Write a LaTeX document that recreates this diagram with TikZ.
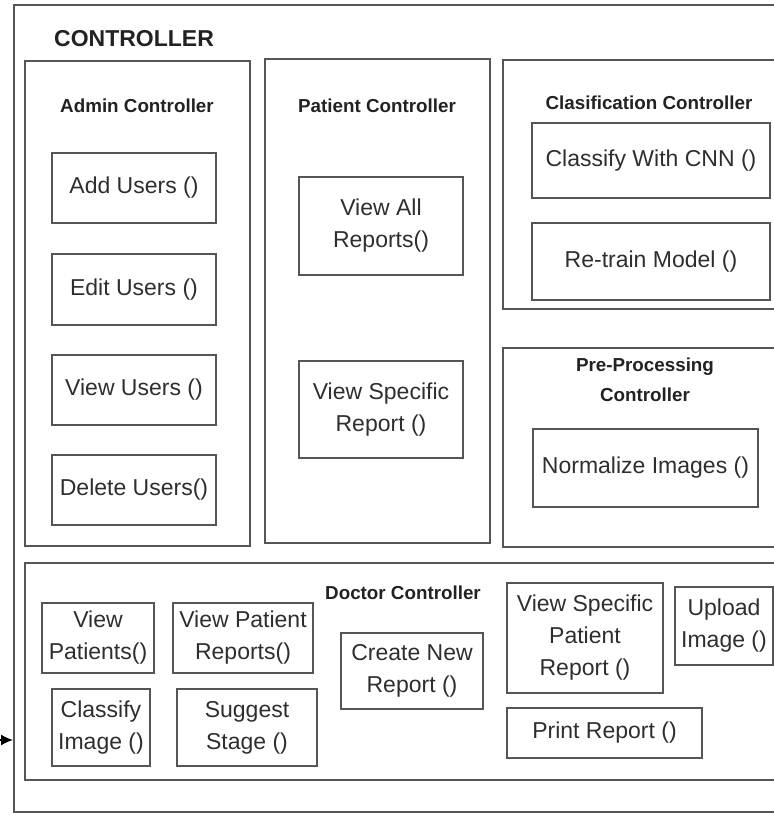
\documentclass[tikz,border=0pt]{standalone}
\usepackage{fontspec}
\setmainfont{Liberation Sans}
\usetikzlibrary{arrows.meta, positioning}
\definecolor{lngray}{HTML}{555555}
\definecolor{txgray}{HTML}{2E2E2E}
\definecolor{hdblack}{HTML}{222222}

\begin{document}
\begin{tikzpicture}[x=1pt, y=-1pt, >={Latex[length=12pt, width=11pt]},
  method/.style={draw=lngray, line width=1.7pt, text=txgray, align=center,
    inner sep=0pt, font=\fontsize{23}{32}\selectfont},
  group/.style={draw=lngray, line width=1.7pt},
  head/.style={text=hdblack, align=center, font=\fontsize{18.8}{30}\selectfont\bfseries}]

% Page size of the reference
\useasboundingbox (0,0) rectangle (774,815);
\clip (0,0) rectangle (774,815);

% Outer controller frame and title
\draw[group] (14,5) rectangle (790,812);
\node[head, font=\fontsize{23}{26}\selectfont\bfseries] (title) at (134,39) {CONTROLLER};

% Admin controller
\draw[group] (25,61) rectangle (250,546);
\node[head] (adminHead) at (137,106) {Admin Controller};
\node[method, minimum width=164, minimum height=70] (addUsers) at (134,188) {Add Users ()};
\node[method, minimum width=164, minimum height=71] (editUsers) at (134,289.5) {Edit Users ()};
\node[method, minimum width=164, minimum height=70] (viewUsers) at (134,390) {View Users ()};
\node[method, minimum width=164, minimum height=70] (deleteUsers) at (134,490) {Delete Users()};

% Patient controller
\draw[group] (265,59) rectangle (490,543);
\node[head] (patientHead) at (377,106) {Patient Controller};
\node[method, minimum width=164, minimum height=98] (viewAll) at (381,226) {View All\\Reports()};
\node[method, minimum width=164, minimum height=97] (viewSpecific) at (381,409.5) {View Specific\\Report ()};

% Classification controller
\draw[group] (503,60) rectangle (790,309);
\node[head] (classHead) at (649,103) {Clasification Controller};
\node[method, minimum width=238, minimum height=75] (classifyCnn) at (651,160.5) {Classify With CNN ()};
\node[method, minimum width=238, minimum height=77] (retrain) at (651,261.5) {Re-train Model ()};

% Pre-processing controller
\draw[group] (503,348) rectangle (790,547);
\node[head] (preHead) at (645,380) {Pre-Processing\\Controller};
\node[method, minimum width=225, minimum height=78] (normalize) at (645.5,468) {Normalize Images ()};

% Doctor controller
\draw[group] (25,563) rectangle (790,780);
\node[head] (doctorHead) at (403,593) {Doctor Controller};
\node[method, minimum width=112, minimum height=70] (viewPatients) at (98,638) {View\\Patients()};
\node[method, minimum width=140, minimum height=70] (viewPatReports) at (243,638) {View Patient\\Reports()};
\node[method, minimum width=98, minimum height=77] (classifyImage) at (101,727.5) {Classify\\Image ()};
\node[method, minimum width=140, minimum height=77] (suggestStage) at (247,727.5) {Suggest\\Stage ()};
\node[method, minimum width=142, minimum height=76] (createReport) at (412,671) {Create New\\Report ()};
\node[method, minimum width=156, minimum height=110] (viewSpecPatient) at (585,638) {View Specific\\Patient\\Report ()};
\node[method, minimum width=98, minimum height=78] (uploadImage) at (724,626) {Upload\\Image ()};
\node[method, minimum width=195, minimum height=50] (printReport) at (604.5,733) {Print Report ()};

% Incoming arrow on the left edge
\coordinate (arrowTail) at (-6,740);
\coordinate (arrowHead) at (13,740);
\draw[black, line width=1.4pt, ->] (arrowTail) -- (arrowHead);

\end{tikzpicture}
\end{document}
